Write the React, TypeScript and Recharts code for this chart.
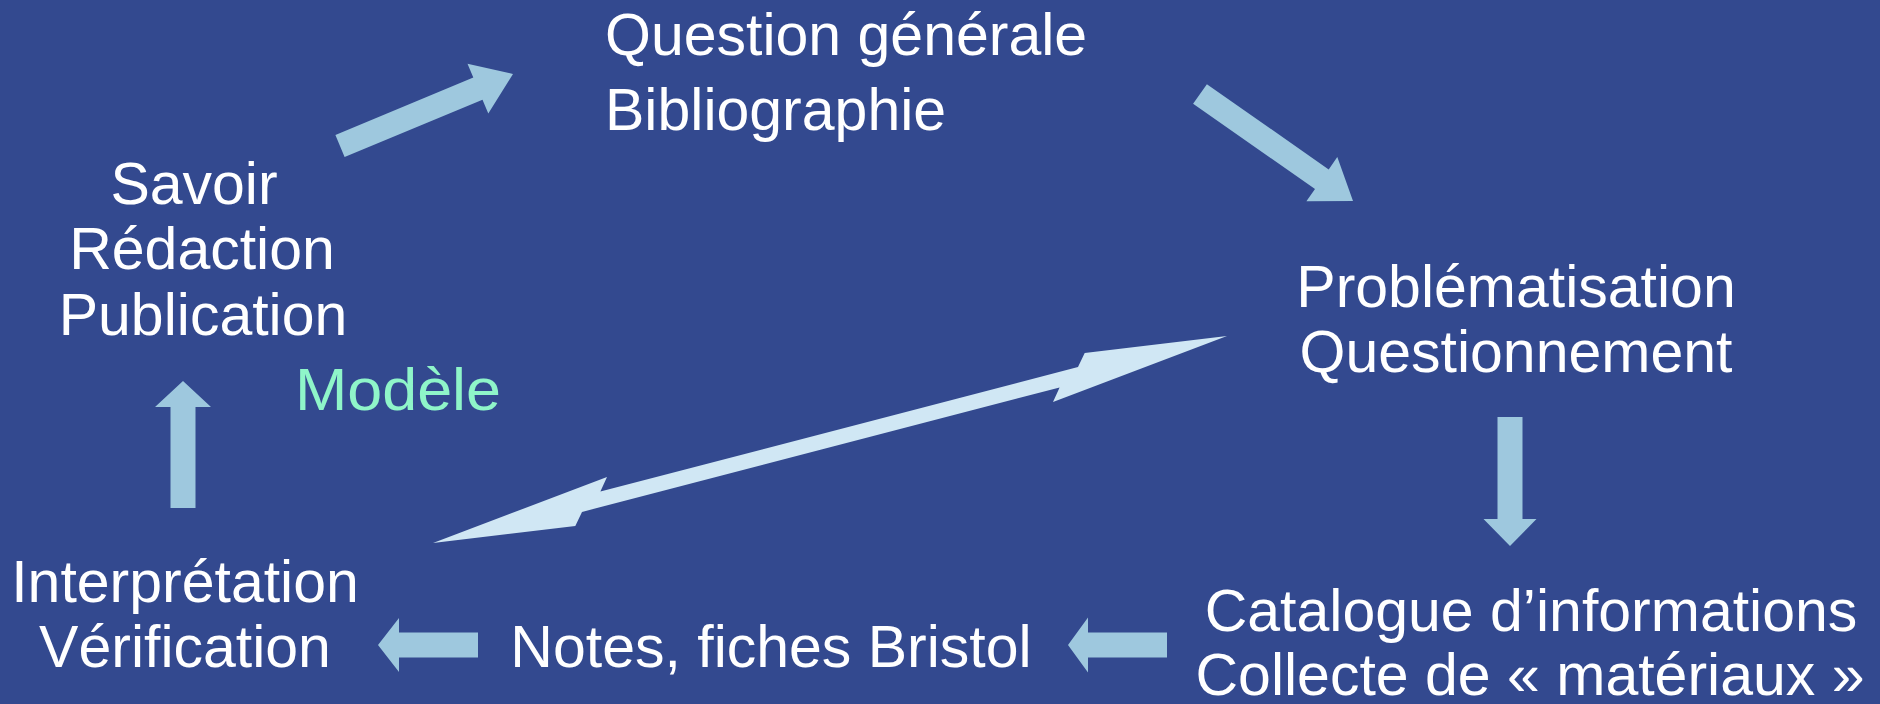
import { ReferenceLine, Scatter, ScatterChart, XAxis, YAxis } from "recharts"

// labels of the research cycle
const labelText = [
  "Question générale",
  "Bibliographie",
  "Savoir",
  "Rédaction",
  "Publication",
  "Problématisation",
  "Questionnement",
  "Interprétation",
  "Vérification",
  "Notes, fiches Bristol",
  "Catalogue d’informations",
  "Collecte de « matériaux »",
]
const labelX = [605, 605, 194, 202, 203, 1516, 1516, 185, 185, 771, 1531, 1530]
const labelY = [55, 130, 204, 269, 335, 307, 372, 602, 667, 667, 631, 695]

const modelText = ["Modèle"]
const modelX = [398]
const modelY = [410]

// block arrows: tail -> tip
const arrowFrom = [
  [340, 146],
  [1200, 94],
  [1510, 417],
  [1167, 645],
  [478, 645],
  [183, 508],
]
const arrowTo = [
  [513, 74],
  [1353, 201],
  [1510, 546],
  [1068, 645],
  [378, 645],
  [183, 381],
]

// double arrow between Problématisation and Interprétation
const linkEnds = [
  [433, 543],
  [1227, 336],
]

const W = 1880
const H = 704
const BG = "#33498f"
const ARROW = "#9ec8de"
const LINK = "#d0e7f4"
const FONT = "'Liberation Sans', Arial, sans-serif"

const labelAnchor = ["start", "start", "middle", "middle", "middle", "middle", "middle", "middle", "middle", "middle", "middle", "middle"]
const arrowSize = [
  { shaft: 24, len: 38, head: 54 },
  { shaft: 24, len: 38, head: 54 },
  { shaft: 25, len: 27, head: 53 },
  { shaft: 25, len: 20, head: 55 },
  { shaft: 25, len: 21, head: 54 },
  { shaft: 25, len: 26, head: 56 },
]

const labels = labelText.map((text, i) => ({ x: labelX[i], y: labelY[i], text, anchor: labelAnchor[i] }))
const models = modelText.map((text, i) => ({ x: modelX[i], y: modelY[i], text, anchor: "middle" }))

const pts = (list: number[][]) => list.map((p) => `${p[0].toFixed(1)},${p[1].toFixed(1)}`).join(" ")

function blockArrow(size: { shaft: number; len: number; head: number }) {
  return (props: any) => {
    const { x1, y1, x2, y2 } = props
    const dx = x2 - x1
    const dy = y2 - y1
    const l = Math.hypot(dx, dy)
    const ex = dx / l
    const ey = dy / l
    const nx = -ey
    const ny = ex
    const at = (u: number, v: number) => [x2 + u * ex + v * nx, y2 + u * ey + v * ny]
    const s = size.shaft / 2
    const h = size.head / 2
    const b = -size.len
    const poly = [at(0, 0), at(b, -h), at(b, -s), at(-l, -s), at(-l, s), at(b, s), at(b, h)]
    return <polygon points={pts(poly)} fill={ARROW} />
  }
}

function doubleArrow(props: any) {
  const { x1, y1, x2, y2 } = props
  const dx = x2 - x1
  const dy = y2 - y1
  const l = Math.hypot(dx, dy)
  const ex = dx / l
  const ey = dy / l
  const nx = -ey
  const ny = ex
  const R = (u: number, v: number) => [x2 + u * ex + v * nx, y2 + u * ey + v * ny]
  const L = (u: number, v: number) => [x1 - u * ex - v * nx, y1 - u * ey - v * ny]
  const s = 7.5
  const poly = [
    R(0, 0),
    R(-142, -19.5),
    R(-152, -s),
    L(-175, s),
    L(-185, 20),
    L(0, 0),
    L(-142, -19.5),
    L(-152, -s),
    R(-175, s),
    R(-185, 20),
  ]
  return <polygon points={pts(poly)} fill={LINK} />
}

function makeLabel(color: string, stretch: number) {
  return (props: any) => {
    const { cx, cy, payload } = props
    return (
      <text
        x={0}
        y={0}
        transform={`translate(${cx},${cy}) scale(${stretch},1)`}
        textAnchor={payload.anchor}
        fill={color}
        fontSize={59}
        fontFamily={FONT}
      >
        {payload.text}
      </text>
    )
  }
}

export default function App() {
  return (
    <div style={{ position: "absolute", left: 0, top: 0, width: W, height: H, background: BG, overflow: "hidden" }}>
      <ScatterChart width={W} height={H} margin={{ top: 0, right: 0, bottom: 0, left: 0 }}>
        <XAxis type="number" dataKey="x" domain={[0, W]} hide allowDataOverflow />
        <YAxis type="number" dataKey="y" domain={[0, H]} reversed hide allowDataOverflow />
        {arrowFrom.map((p, i) => (
          <ReferenceLine
            key={i}
            segment={[
              { x: p[0], y: p[1] },
              { x: arrowTo[i][0], y: arrowTo[i][1] },
            ]}
            shape={blockArrow(arrowSize[i])}
          />
        ))}
        <ReferenceLine
          segment={[
            { x: linkEnds[0][0], y: linkEnds[0][1] },
            { x: linkEnds[1][0], y: linkEnds[1][1] },
          ]}
          shape={doubleArrow}
        />
        <Scatter data={labels} shape={makeLabel("#ffffff", 1)} isAnimationActive={false} />
        <Scatter data={models} shape={makeLabel("#8ff5c9", 1.065)} isAnimationActive={false} />
      </ScatterChart>
    </div>
  )
}
